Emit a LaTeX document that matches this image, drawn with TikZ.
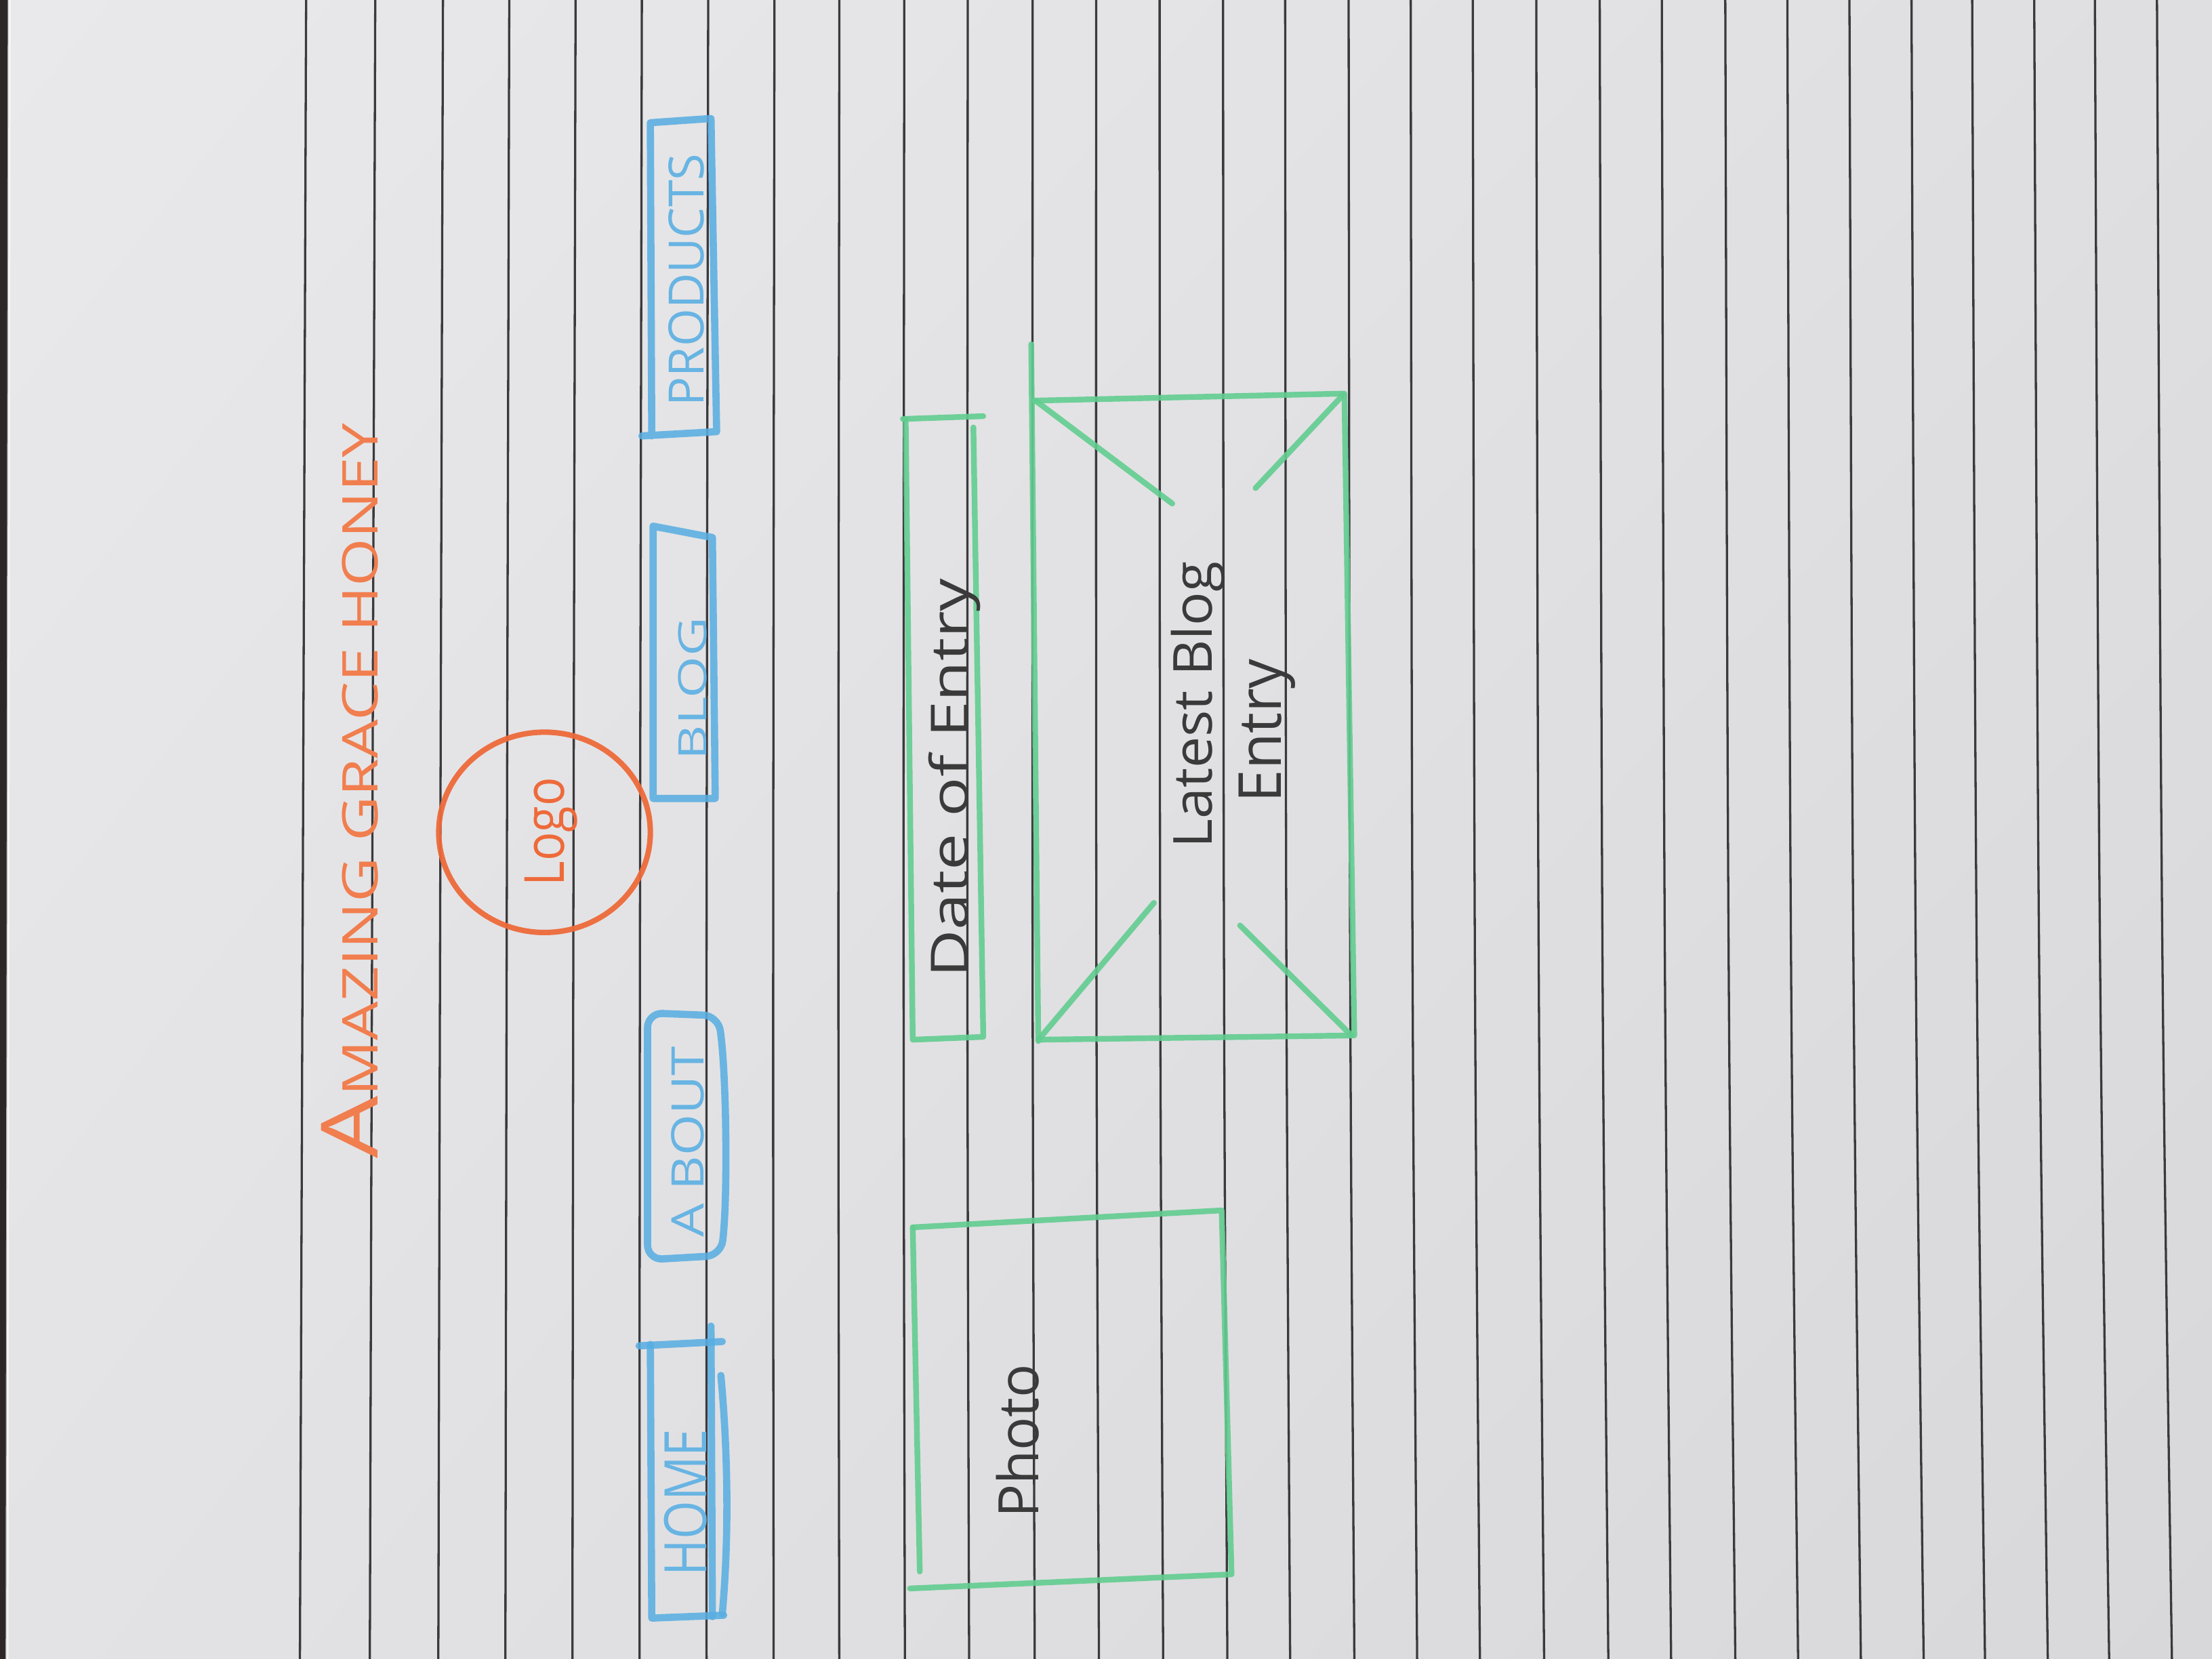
\documentclass[tikz,border=0pt]{standalone}
\usepackage{fontspec}
\setmainfont{Open Sans}
\usepackage{graphicx}
\usetikzlibrary{shadings}

% pencil and paper colours
\definecolor{paperUL}{HTML}{E9E9EB}
\definecolor{paperUR}{HTML}{DFDFE1}
\definecolor{paperLL}{HTML}{E3E3E5}
\definecolor{paperLR}{HTML}{D8D8DB}
\definecolor{ruleink}{HTML}{3A3A3D}
\definecolor{tabledge}{HTML}{2E2727}
\definecolor{navblue}{HTML}{5AAEE2}
\definecolor{navtext}{HTML}{68B4E3}
\definecolor{wfgreen}{HTML}{62CD90}
\definecolor{logoorange}{HTML}{EE6A3A}
\definecolor{titleorange}{HTML}{F17E4E}
\definecolor{graphite}{HTML}{3A3A3A}

\begin{document}
\begin{tikzpicture}[x=0.01cm, y=-0.01cm,
  ruling/.style={draw=ruleink, line width=0.45pt},
  bluebox/.style={draw=navblue, line width=1.45pt, line cap=round, line join=round, opacity=0.88},
  greenbox/.style={draw=wfgreen, line width=1.15pt, line cap=round, line join=round, opacity=0.9},
  logoring/.style={draw=logoorange, line width=1.1pt, opacity=0.95},
  pencilword/.style={inner sep=0pt, anchor=base, rotate=90},
]
\useasboundingbox (0,0) rectangle (1568,1176);

% sheet of paper
\shade[upper left=paperUL, upper right=paperUR, lower left=paperLL, lower right=paperLR]
  (0,0) rectangle (1568,1176);
% table showing at the left edge of the sheet
\fill[tabledge] (0,0) -- (6,0) -- (4.5,1176) -- (0,1176) -- cycle;
\draw[white, opacity=0.6, line width=0.6pt] (6.5,0) -- (5,1176);

% ruled lines, slightly tilted and bowed
\foreach \xt in {217,266,314,361,408,455,502,549,595,641,686,732,777,822,867,
                 911,956,1000,1044,1089,1134,1178,1223,1267,1311,1355,1398,1442,1485,1529} {
  \pgfmathsetmacro{\rt}{(\xt-217)/1312}
  \pgfmathsetmacro{\dd}{-4.4+15*\rt}
  \pgfmathsetmacro{\xb}{\xt+\dd}
  \pgfmathsetmacro{\xc}{\xt+0.595*\dd-3*\rt}
  \draw[ruling] (\xt,0) .. controls (\xc,700) .. (\xb,1176);
}

% header: site title and logo
\node[pencilword, text=titleorange] (sitetitle) at (268,560.5)
  {\resizebox{52.1mm}{4.0mm}{{\fontsize{16}{16}\selectfont A}MAZING GRACE HONEY}};
\draw[logoring] (386,590) ellipse [x radius=75, y radius=71];
\node[pencilword, text=logoorange] (logotext) at (400,589.5)
  {\resizebox{7.7mm}{2.8mm}{Logo}};

% navigation tabs
\draw[bluebox] (455,309) -- (508,306) -- (504,84) -- (461,87) -- (462,309);
\node[pencilword, text=navtext] (products) at (499,198.5)
  {\resizebox{17.9mm}{2.5mm}{PRODUCTS}};

\draw[bluebox] (463,373) -- (505,381) -- (507,566) -- (463,566) -- cycle;
\node[pencilword, text=navtext] (blog) at (501,488)
  {\resizebox{10.1mm}{2.0mm}{BLOG}};

\draw[bluebox, rounded corners=3] (459,718) -- (509,720)
  .. controls (515,760) and (516,850) .. (511,890) -- (459,893) -- cycle;
\node[pencilword, text=navtext] (about) at (499,809.5)
  {\resizebox{13.5mm}{2.3mm}{A\kern0.25em BOUT}};

\draw[bluebox] (453,954) -- (512,951);
\draw[bluebox] (461,953) -- (462,1147) -- (513,1145);
\draw[bluebox] (504,940) -- (505,1146);
\draw[bluebox] (511,975) .. controls (517,1040) and (516,1100) .. (512,1144);
\node[pencilword, text=navtext] (home) at (501,1065)
  {\resizebox{10.4mm}{3.0mm}{HOME}};

% date strip
\draw[greenbox] (640,297) -- (697,295);
\draw[greenbox] (690,303) -- (697,735) -- (647,737) -- (642,297);
\node[pencilword, text=graphite] (date) at (686,551.5)
  {\resizebox{28.3mm}{2.8mm}{Date of Entry}};

% image placeholder for the latest entry
\draw[greenbox] (731,244) -- (736,738);
\draw[greenbox] (733,284) -- (953,279) -- (960,734) -- (736,737);
\draw[greenbox] (734,284) -- (831,357);
\draw[greenbox] (952,280) -- (890,346);
\draw[greenbox] (737,736) -- (818,640);
\draw[greenbox] (958,734) -- (879,656);
\node[pencilword, text=graphite] (latest1) at (859,499.5)
  {\resizebox{20.3mm}{2.9mm}{Latest Blog}};
\node[pencilword, text=graphite] (latest2) at (908,518)
  {\resizebox{10.2mm}{3.0mm}{Entry}};

% photo block
\draw[greenbox] (647,870) -- (866,858) -- (873,1116) -- (645,1126);
\draw[greenbox] (647,870) -- (652,1114);
\node[pencilword, text=graphite] (photo) at (736,1021.5)
  {\resizebox{10.9mm}{3.0mm}{Photo}};
\end{tikzpicture}
\end{document}
